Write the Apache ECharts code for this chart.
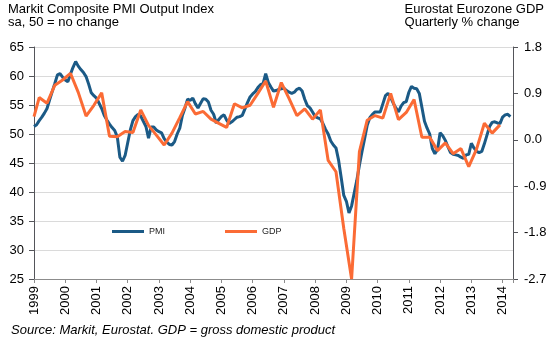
<!DOCTYPE html>
<html>
<head>
<meta charset="utf-8">
<script src="https://cdn.jsdelivr.net/npm/echarts@6/dist/echarts.min.js"></script>
<style>
html,body{margin:0;padding:0;background:#fff;}
#chart{width:558px;height:341px;}
</style>
</head>
<body>
<div id="chart"></div>
<script>
// Year tick labels
const yearTicks = [1999,2000,2001,2002,2003,2004,2005,2006,2007,2008,2009,2010,2011,2012,2013,2014];
const startYear = 1999;

// Markit Eurozone Composite PMI, monthly from Jan 1999
const pmiMonthly = [
  51.3,51.6,52.3,52.9,53.6,54.4,55.9,57.3,58.7,60.2,60.4,59.8, // 1999
  59.3,59.0,60.3,61.5,62.5,61.7,61.1,60.6,59.9,58.6,57.1,56.6, // 2000
  56.2,55.3,54.4,53.2,52.4,51.7,51.1,50.6,49.5,46.0,45.3,46.3, // 2001
  48.5,50.7,52.3,53.0,53.4,53.1,52.2,51.3,49.3,51.2,51.2,50.7, // 2002
  50.4,50.2,49.2,48.6,48.2,48.1,48.7,50.0,51.0,53.2,54.5,56.0, // 2003
  55.8,56.2,55.2,54.5,55.3,56.1,56.0,55.5,54.1,53.4,51.9,52.5, // 2004
  53.0,53.3,52.4,51.8,52.1,52.5,52.9,53.0,53.2,54.3,55.4,56.4, // 2005
  56.9,57.3,58.0,58.5,58.7,60.4,58.9,58.1,57.4,57.5,57.7,57.8, // 2006
  57.9,57.5,57.2,57.0,57.2,57.7,57.9,57.4,56.0,54.9,54.5,53.8, // 2007
  53.0,52.8,52.6,51.8,50.8,50.0,48.8,48.1,47.6,45.5,42.5,39.4, // 2008
  38.4,36.4,37.6,39.8,42.0,44.6,47.0,49.2,51.5,52.8,53.4,53.8, // 2009
  53.8,53.8,55.2,56.6,57.0,56.3,55.3,54.5,53.8,54.8,55.4,55.6, // 2010
  57.2,58.2,57.9,57.8,57.0,54.6,52.2,51.0,50.0,47.5,46.6,47.3, // 2011
  50.2,49.7,48.9,47.8,46.8,46.5,46.4,46.3,46.0,45.8,46.4,46.5, // 2012
  48.4,47.6,47.0,46.8,47.0,48.3,49.8,51.3,52.0,52.1,51.9,51.8, // 2013
  52.9,53.3,53.4,53.0                                          // 2014
];

// Eurostat Eurozone GDP, quarterly % change, Q1 1999 - Q4 2013
const gdpFirst = 0.45; // value where the line enters at Jan 1999
const gdpQuarterly = [
  0.82,0.71,1.06,1.16,   // 1999
  1.29,0.92,0.46,0.67,   // 2000
  0.91,0.07,0.06,0.16,   // 2001
  0.14,0.58,0.28,0.09,   // 2002
  -0.10,0.13,0.43,0.74,  // 2003
  0.50,0.55,0.40,0.32,   // 2004
  0.24,0.70,0.62,0.67,   // 2005
  0.90,1.14,0.63,1.11,   // 2006
  0.80,0.47,0.60,0.40,   // 2007
  0.58,-0.40,-0.62,-1.72,// 2008
  -2.70,-0.23,0.38,0.47, // 2009
  0.42,0.90,0.39,0.53,   // 2010
  0.78,0.05,0.05,-0.21,  // 2011
  -0.06,-0.27,-0.17,-0.52,// 2012
  -0.18,0.32,0.13,0.29   // 2013
];

const pmiData = pmiMonthly.map((v, i) => [startYear + i / 12, v]);
const gdpData = [[startYear, gdpFirst]].concat(
  gdpQuarterly.map((v, i) => [startYear + Math.floor(i / 4) + ((i % 4) * 3 + 2) / 12, v])
);

const FONT = "'Liberation Sans', Arial, Helvetica, sans-serif";
const chart = echarts.init(document.getElementById('chart'));

chart.setOption({
  animation: false,
  graphic: [
    {type: 'text', left: 8, top: 3, style: {text: 'Markit Composite PMI Output Index\nsa, 50 = no change', font: '13px ' + FONT, fill: '#000'}},
    {type: 'text', right: 14, top: 3, style: {text: 'Eurostat Eurozone GDP\nQuarterly % change', font: '13px ' + FONT, fill: '#000', align: 'right'}},
    {type: 'text', left: 11, top: 324, style: {text: 'Source: Markit, Eurostat. GDP = gross domestic product', font: 'italic 13px ' + FONT, fill: '#000'}}
  ],
  legend: {
    left: 107, top: 222,
    icon: 'rect', itemWidth: 32, itemHeight: 3, itemGap: 60,
    textStyle: {fontSize: 9, color: '#222', fontFamily: FONT},
    data: ['PMI', 'GDP']
  },
  grid: {left: 34, right: 45, top: 47, bottom: 62},
  xAxis: {
    type: 'value', min: startYear, max: startYear + 184 / 12, interval: 1,
    axisLine: {onZero: false, lineStyle: {color: '#8c8c8c'}},
    axisTick: {length: 4, lineStyle: {color: '#8c8c8c'}},
    axisLabel: {rotate: 90, fontSize: 13, color: '#000', fontFamily: FONT, margin: 7,
      formatter: function (v) { return Math.abs(v - Math.round(v)) < 1e-6 ? String(Math.round(v)) : ''; }},
    splitLine: {show: false}
  },
  yAxis: [
    {
      type: 'value', min: 25, max: 65, interval: 5,
      axisLabel: {margin: 10, fontSize: 13, color: '#000', fontFamily: FONT},
      splitLine: {lineStyle: {color: '#dadada'}}
    },
    {
      type: 'value', min: -2.7, max: 1.8, interval: 0.9, position: 'right',
      axisLabel: {margin: 11, fontSize: 13, color: '#000', fontFamily: FONT,
        formatter: function (v) { return (Math.abs(v) < 1e-9 ? 0 : v).toFixed(1); }},
      splitLine: {show: false}
    }
  ],
  series: [
    {
      name: 'PMI', type: 'line', yAxisIndex: 0, data: pmiData,
      showSymbol: false,
      lineStyle: {color: '#1b5a86', width: 3},
      itemStyle: {color: '#1b5a86'}
    },
    {
      name: 'GDP', type: 'line', yAxisIndex: 1, data: gdpData,
      showSymbol: false,
      lineStyle: {color: '#fb6b35', width: 3},
      itemStyle: {color: '#fb6b35'}
    }
  ]
});
</script>
</body>
</html>
